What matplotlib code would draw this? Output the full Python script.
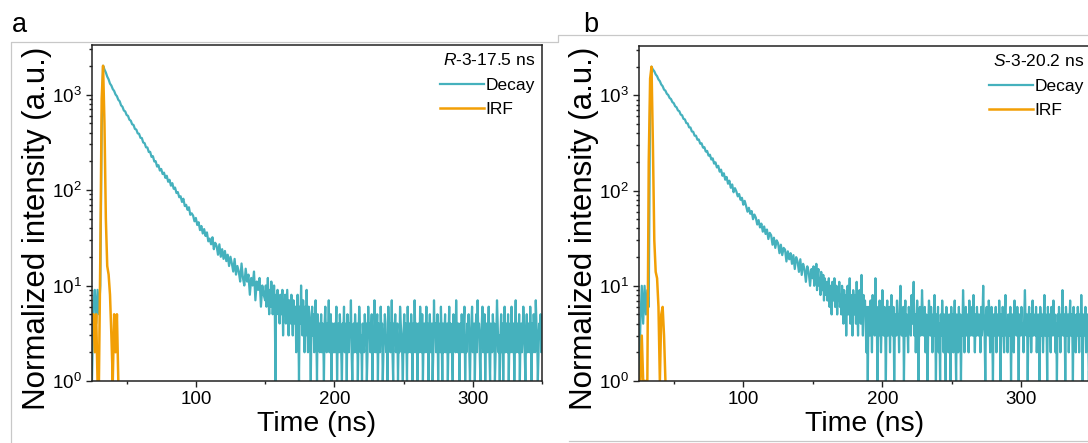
import matplotlib
matplotlib.use("Agg")
import matplotlib.pyplot as plt
import numpy as np
from matplotlib.lines import Line2D
from matplotlib.ticker import LogLocator, MultipleLocator, NullFormatter

plt.rcParams["font.family"] = ["Liberation Sans", "DejaVu Sans"]
plt.rcParams["mathtext.fontset"] = "custom"
plt.rcParams["mathtext.rm"] = "Liberation Sans"
plt.rcParams["mathtext.it"] = "Liberation Sans:italic"
plt.rcParams["mathtext.default"] = "regular"

TEAL = "#45B1BD"
ORANGE = "#F29F05"
FRAME = "#C8C8C8"

T0 = 25           # first channel on screen (ns), 1 ns channels up to the tail
TAIL_START = 150  # from here on the counts were read every 0.5 ns
TAIL_STEP = 0.5

# panel a, counts for t = 25 ... 149 ns (1 ns)
head_a = [
    1, 6, 9, 4, 9, 5, 10, 420,
    2000, 1830, 1700, 1540, 1440, 1300, 1240, 1140, 1090, 1000,
    960, 880, 850, 770, 745, 680, 665, 610, 598, 545,
    532, 488, 480, 436, 430, 392, 388, 352, 350, 314,
    310, 280, 279, 250, 251, 222, 226, 199, 200, 176,
    182, 160, 166, 147, 152, 134, 141, 122, 128, 111,
    118, 103,
    106, 93, 95, 84, 86, 75, 81, 68, 70, 62,
    66, 55, 57, 54, 47, 51, 43, 46, 38, 42,
    35, 39, 33, 36, 29, 31, 27, 32, 24, 28,
    26, 21, 27, 20, 24, 19, 23, 18, 21, 16,
    20, 17, 14, 19, 13, 16, 14, 11, 17, 12,
    10, 15, 11, 13, 8, 12, 10, 14, 7, 11,
    9, 12, 6, 10, 8,
]
# panel a, counts for t = 150 ... 350 ns (0.5 ns)
tail_a = [
    7, 10, 6, 8, 12, 7, 5, 9, 6, 11, 8, 5, 7, 10, 6, 1, 8, 6, 9, 5,
    7, 4, 8, 6, 5, 9, 3, 7, 5, 8, 4, 6, 9, 5, 3, 7, 6, 4, 8, 5,
    3, 7, 5, 4, 6, 2, 5, 8, 4, 1, 6, 4, 10, 5, 3, 7, 4, 2, 6, 3,
    9, 4, 2, 6, 5, 3, 1, 4, 6, 3, 5, 2, 4, 7, 3, 1, 5, 3, 4, 2,
    3, 5, 2, 4, 3, 1, 4, 6, 3, 2, 4, 3, 7, 2, 3, 5, 1, 4, 3, 2,
    4, 2, 3, 6, 1, 3, 4, 2, 5, 3, 2, 1, 4, 3, 6, 2, 3, 4, 1, 5,
    3, 2, 4, 3, 7, 2, 1, 3, 4, 2, 5, 3, 2, 4, 1, 3, 6, 4, 2, 3,
    1, 4, 3, 2, 5, 3, 4, 1, 2, 6, 3, 4, 2, 3, 5, 1, 3, 2, 7, 4,
    2, 3, 5, 1, 4, 3, 2, 6, 3, 4, 1, 2, 3, 5, 4, 2, 3, 1, 6, 3,
    4, 2, 3, 7, 2, 1, 4, 3, 5, 2, 3, 4, 1, 3, 2, 6, 4, 3, 2, 1,
    3, 5, 2, 4, 3, 1, 6, 2, 3, 4, 2, 5, 3, 1, 4, 2, 7, 3, 2, 4,
    1, 3, 4, 2, 6, 3, 2, 5, 1, 3, 4, 2, 3, 6, 2, 4, 1, 3, 5, 2,
    3, 4, 1, 2, 7, 3, 4, 2, 3, 5, 1, 4, 3, 2, 6, 3, 1, 4, 2, 3,
    5, 2, 3, 4, 1, 3, 6, 2, 4, 3, 2, 1, 5, 3, 4, 2, 7, 3, 2, 4,
    3, 1, 4, 2, 5, 3, 2, 4, 6, 1, 3, 2, 4, 3, 5, 2, 1, 3, 4, 6,
    2, 3, 4, 1, 3, 5, 2, 7, 3, 4, 2, 1, 3, 4, 6, 2, 3, 5, 1, 3,
    4, 2, 3, 6, 2, 1, 4, 3, 2, 5, 3, 4, 1, 2, 3, 7, 4, 2, 3, 1,
    3, 5, 2, 4, 1, 3, 6, 2, 3, 4, 2, 5, 1, 3, 4, 2, 6, 3, 2, 4,
    1, 3, 7, 2, 4, 3, 2, 5, 1, 3, 4, 2, 3, 6, 4, 2, 1, 3, 5, 2,
    3, 4, 2, 6, 3, 1, 4, 2, 5, 3, 2, 7, 4, 3, 1, 2, 4, 3, 5, 2,
    3,
]
irf_a = [5, 5, 2, 5, 1, 1, 20, 900, 2000, 500, 50, 16, 13, 8, 3, 1, 5, 2, 5, 1]

# panel b, counts for t = 25 ... 149 ns (1 ns)
head_b = [
    1, 4, 10, 4, 10, 5, 9, 6, 900,
    2000, 1870, 1790, 1660, 1590, 1470, 1410, 1300, 1250, 1150,
    1120, 1040, 1010, 940, 915, 850, 828, 768, 750, 695,
    682, 628, 618, 566, 560, 512, 507, 462, 460, 418,
    414, 377, 377, 342, 344, 311, 314, 283, 286, 257,
    261, 233, 238, 212, 218, 192, 198, 175, 182, 158,
    166, 143, 152, 130, 139, 118, 127, 107, 116, 96,
    106,
    98, 87, 92, 80, 84, 71, 78, 69, 60, 66,
    57, 61, 50, 56, 52, 44, 49, 41, 45, 37,
    42, 35, 39, 31, 36, 34, 27, 32, 25, 30,
    28, 22, 27, 21, 25, 24, 18, 23, 19, 22,
    17, 21, 15, 20, 18, 14, 19, 13, 17, 15,
    11, 16, 14, 10, 15,
]
# panel b, counts for t = 150 ... 350 ns (0.5 ns)
tail_b = [
    12, 16, 10, 14, 11, 17, 9, 13, 15, 10, 12, 8, 14, 11, 9, 13, 7, 12, 10, 8,
    11, 7, 9, 12, 6, 10, 8, 5, 11, 9, 7, 12, 6, 8, 10, 5, 9, 7, 11, 6,
    8, 5, 10, 7, 4, 9, 6, 8, 3, 7, 10, 5, 6, 12, 4, 8, 6, 3, 9, 7,
    5, 8, 4, 11, 6, 3, 7, 9, 5, 4, 13, 6, 3, 8, 5, 7, 4, 2, 6, 1,
    6, 4, 3, 7, 5, 2, 8, 4, 6, 3, 12, 5, 4, 1, 6, 3, 7, 5, 2, 4,
    9, 5, 3, 6, 4, 1, 5, 7, 3, 4, 6, 2, 5, 8, 4, 3, 6, 1, 4, 5,
    3, 7, 4, 5, 2, 6, 10, 4, 3, 5, 6, 1, 4, 7, 3, 5, 4, 2, 6, 4,
    5, 3, 8, 4, 6, 11, 3, 5, 2, 4, 7, 4, 1, 5, 6, 3, 4, 9, 5, 3,
    4, 6, 2, 5, 3, 1, 4, 7, 5, 3, 6, 4, 2, 5, 3, 8, 4, 1, 5, 3,
    6, 2, 4, 1, 5, 3, 7, 4, 2, 5, 3, 1, 6, 4, 3, 2, 5, 4, 1, 6,
    3, 5, 2, 4, 7, 3, 1, 5, 4, 2, 6, 3, 5, 1, 4, 3, 9, 5, 2, 4,
    6, 3, 5, 4, 2, 7, 4, 3, 5, 6, 3, 8, 4, 2, 5, 3, 6, 4, 3, 5,
    4, 2, 6, 3, 5, 10, 4, 3, 1, 5, 6, 4, 3, 7, 5, 2, 4, 6, 3, 1,
    5, 4, 3, 6, 2, 4, 5, 3, 7, 4, 1, 5, 3, 6, 4, 2, 5, 8, 3, 4,
    2, 5, 4, 3, 6, 1, 4, 5, 3, 2, 7, 4, 5, 3, 6, 4, 1, 5, 3, 4,
    6, 3, 4, 2, 5, 9, 4, 3, 5, 1, 4, 6, 3, 5, 2, 4, 7, 3, 5, 4,
    3, 6, 2, 4, 5, 3, 1, 6, 4, 3, 5, 2, 4, 8, 3, 5, 4, 1, 6, 3,
    5, 4, 2, 6, 3, 4, 7, 3, 5, 2, 4, 1, 5, 3, 6, 4, 2, 5, 3, 9,
    4, 3, 5, 1, 6, 4, 3, 5, 2, 4, 7, 3, 5, 4, 1, 6, 3, 4, 2, 5,
    3, 6, 4, 2, 5, 3, 8, 4, 1, 5, 3, 4, 6, 2, 4, 5, 3, 1, 6, 4,
    4,
]
irf_b = [1, 1, 3, 1, 1, 1, 1, 200, 1500, 2000, 300, 30, 14, 12, 6, 1, 5, 6, 3, 1]

panels = [
    ("a", "R", "17.5", head_a, tail_a, irf_a),
    ("b", "S", "20.2", head_b, tail_b, irf_b),
]

W, H = 1088, 443
fig = plt.figure(figsize=(W / 100, H / 100), dpi=100)


def px_box(left, top, right, bottom):
    return [left / W, 1 - bottom / H, (right - left) / W, (bottom - top) / H]


# grey outlines of the original screenshot frames
def frame(xs, ys):
    fig.add_artist(Line2D(np.array(xs) / W, 1 - np.array(ys) / H, color=FRAME, lw=0.9,
                          transform=fig.transFigure))


frame([10.5, 10.5, 558, 558, 1088], [443, 42, 42, 35, 35])
frame([569, 1088], [441, 441])

boxes = [px_box(92, 45, 542, 381), px_box(639, 46, 1091, 381)]
letter_x = [12, 583]
ylabel_x = [-0.088, -0.088]

for (letter, iso, tau, head, tail, irf), box, lx, yx in zip(panels, boxes, letter_x, ylabel_x):
    ax = fig.add_axes(box)
    t_dec = np.concatenate([T0 + np.arange(len(head)),
                            TAIL_START + TAIL_STEP * np.arange(len(tail))])
    decay = np.concatenate([head, tail])
    t_irf = T0 + np.arange(len(irf))
    ax.plot(t_dec, decay, color=TEAL, lw=1.6, label="Decay")
    ax.plot(t_irf, irf, color=ORANGE, lw=1.8, label="IRF")
    ax.set_yscale("log")
    ax.set_xlim(25, 350)
    ax.set_ylim(1, 3300)
    ax.xaxis.set_major_locator(MultipleLocator(100))
    ax.xaxis.set_minor_locator(MultipleLocator(50))
    ax.yaxis.set_major_locator(LogLocator(base=10, numticks=10))
    ax.yaxis.set_minor_locator(LogLocator(base=10, subs=np.arange(2, 10), numticks=10))
    ax.yaxis.set_minor_formatter(NullFormatter())
    ax.tick_params(which="both", direction="out", top=False, right=False,
                   labelsize=13.5, width=1.0, color="#222222")
    ax.tick_params(which="major", length=4.5, pad=3)
    ax.tick_params(which="minor", length=2.5)
    for sp in ax.spines.values():
        sp.set_linewidth(1.1)
        sp.set_color("#222222")
    ax.set_xlabel("Time (ns)", fontsize=20.5, labelpad=2)
    ax.set_ylabel("Normalized intensity (a.u.)", fontsize=22.5)
    ax.yaxis.set_label_coords(yx, 0.455)
    ax.legend(title=f"$\\it{{{iso}}}$-3-{tau} ns", loc="upper right",
              frameon=False, fontsize=12.5, title_fontsize=12.5,
              handlelength=2.5, handletextpad=0.12, labelspacing=0.55,
              borderaxespad=0.1, borderpad=0.3, alignment="right")
    fig.text(lx / W, 1 - 32 / H, letter, fontsize=19.5, va="baseline", ha="left")

fig.savefig("out.png", dpi=100)
